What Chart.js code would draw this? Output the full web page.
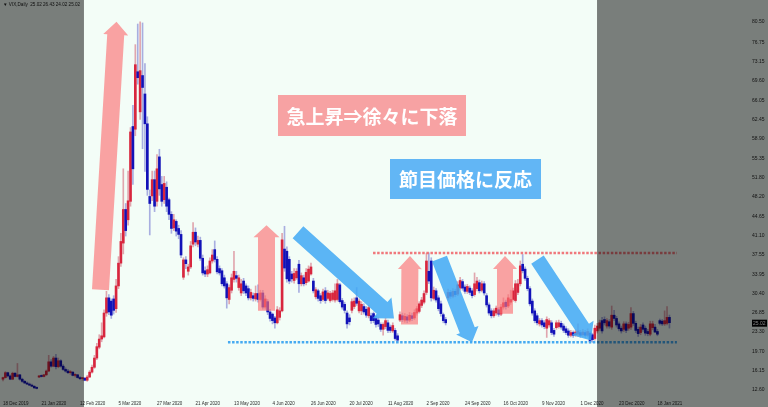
<!DOCTYPE html>
<html><head><meta charset="utf-8">
<script src="https://cdn.jsdelivr.net/npm/chart.js@4.4.1/dist/chart.umd.min.js"></script>
<style>html,body{margin:0;padding:0;background:#f3fdf7;overflow:hidden}#wrap{position:relative;width:768px;height:407px}</style>
</head><body><div id="wrap"><canvas id="c" width="768" height="407"></canvas></div>
<script>
// ---- data ----
const dateLabels = ["18 Dec 2019","21 Jan 2020","12 Feb 2020","5 Mar 2020","27 Mar 2020","21 Apr 2020","13 May 2020","4 Jun 2020","26 Jun 2020","20 Jul 2020","11 Aug 2020","2 Sep 2020","24 Sep 2020","16 Oct 2020","9 Nov 2020","1 Dec 2020","23 Dec 2020","18 Jan 2021"];
const dateTickIndex = [0,16,32,48,64,80,96,112,128,144,160,176,192,208,224,240,256,272];
const priceTicks = [80.50,76.75,73.15,69.60,66.05,62.45,58.90,55.35,51.80,48.20,44.65,41.10,37.55,33.95,30.40,26.85,23.30,19.70,16.15,12.60];
const openP = [14.6,14.9,15.8,15.2,14.6,15.7,15.1,15.4,14.6,14.2,13.9,13.7,13.5,13.3,13.0,15.0,15.2,15.1,15.4,16.1,17.8,17.0,18.5,16.9,18.0,17.0,16.4,16.1,15.8,15.9,15.3,15.4,14.9,14.7,14.8,14.4,15.0,15.9,16.8,18.5,20.5,22.0,22.4,26.8,29.6,29.0,29.4,27.6,31.8,36.0,39.7,45.9,44.0,47.4,61.2,60.7,71.3,63.9,70.6,67.2,61.7,48.3,48.4,51.4,47.4,55.6,50.5,47.7,50.0,47.7,45.0,42.5,43.7,42.4,41.3,33.4,36.6,34.5,35.3,39.5,41.7,39.5,40.2,36.9,34.6,34.0,34.2,36.4,38.5,36.7,35.0,34.6,33.3,32.2,29.3,31.0,33.0,33.7,31.5,30.5,32.7,31.8,31.3,29.6,30.0,29.4,30.4,29.3,30.5,27.9,28.9,27.0,26.6,25.9,25.0,26.0,27.2,38.6,38.2,36.7,34.0,32.8,33.3,35.8,32.2,33.3,32.4,32.7,34.0,32.7,29.8,30.9,30.0,29.3,30.9,29.5,29.1,29.3,29.2,29.3,32.0,29.1,28.4,26.8,25.9,27.3,28.0,29.6,27.2,27.2,28.0,27.5,26.3,26.3,26.7,25.8,25.5,24.7,23.8,24.3,25.0,24.2,23.5,23.6,22.6,25.5,26.3,25.5,26.1,25.5,26.3,25.9,26.8,27.1,28.2,28.8,30.6,34.5,36.4,29.5,30.9,29.6,28.5,26.5,25.6,29.6,30.6,29.9,30.8,30.3,31.4,32.6,31.6,30.8,31.4,30.9,30.2,31.3,32.4,31.0,32.2,30.0,28.3,27.2,26.3,26.8,27.4,26.6,27.9,28.8,28.1,28.8,29.3,29.1,30.6,32.2,35.8,34.9,33.2,31.3,29.0,27.2,26.3,24.8,25.4,25.0,24.0,24.6,25.0,23.6,24.1,24.3,24.9,24.4,23.9,23.5,22.7,23.2,22.8,22.9,23.2,22.8,23.2,22.7,23.1,22.8,22.1,23.5,24.0,25.4,25.6,24.4,25.2,24.2,26.4,25.8,24.8,24.0,23.8,24.8,24.0,24.2,26.7,24.9,23.8,23.2,24.6,24.0,23.4,22.9,24.1,24.2,23.4,25.4,25.3,24.8,24.9,26.0];
const highP = [15.0,16.0,15.9,15.4,15.9,15.8,17.5,15.5,14.8,14.4,14.1,13.9,13.7,13.4,13.2,15.3,15.4,15.5,16.3,19.0,18.2,18.8,19.2,18.5,18.2,17.3,16.7,16.4,16.2,16.0,15.6,15.5,15.1,14.9,14.9,15.3,16.2,17.2,19.0,21.2,22.8,25.0,27.4,30.8,30.2,29.4,30.0,33.0,37.2,41.5,53.4,47.0,53.0,61.0,65.1,76.3,80.1,80.5,80.3,72.8,63.0,49.5,53.0,53.0,56.0,57.0,52.0,52.0,51.0,48.0,45.5,45.0,44.0,43.0,42.0,37.0,37.2,35.8,40.0,43.5,42.5,41.0,40.8,37.5,35.3,35.5,37.0,38.5,40.1,37.2,35.5,35.0,33.8,32.6,32.0,34.0,38.2,34.5,33.8,33.0,33.2,32.2,31.8,31.2,30.5,31.8,32.0,31.0,31.0,30.0,29.3,27.5,26.8,26.2,28.0,27.8,41.5,42.8,39.0,37.2,34.5,35.0,35.0,36.5,34.2,33.8,35.0,35.5,36.0,33.2,31.5,31.2,30.4,31.2,31.5,31.0,30.8,31.0,32.2,33.0,32.3,29.5,28.8,27.2,26.5,29.4,29.6,31.5,29.4,28.9,28.5,28.0,28.2,26.8,27.0,26.2,25.9,25.0,25.0,25.8,25.5,24.6,25.0,24.0,23.0,27.0,26.8,26.7,26.5,26.9,26.8,27.4,28.0,28.9,29.7,30.9,37.8,37.9,37.0,31.6,31.3,30.0,29.0,26.8,26.0,31.2,31.0,31.3,31.2,32.6,33.4,33.0,32.0,32.1,31.8,31.3,34.2,33.4,32.9,32.7,32.6,30.4,28.7,27.6,27.6,28.1,27.8,28.4,29.6,29.2,30.2,31.0,31.4,32.8,33.0,36.4,37.6,35.3,33.6,31.7,29.4,27.6,26.7,25.8,25.8,25.4,26.1,25.8,25.4,24.0,25.4,25.5,25.3,24.8,24.3,23.9,23.6,23.5,23.7,24.8,23.6,23.8,23.6,23.9,23.4,23.1,24.6,24.9,25.5,26.0,26.1,25.8,25.6,28.1,27.3,26.2,25.2,24.4,25.2,25.2,25.1,27.8,27.1,25.3,24.2,24.7,25.0,24.4,23.8,25.3,25.3,24.7,23.8,25.7,25.6,27.2,28.0,26.43];
const lowP = [14.3,14.8,15.0,14.5,14.5,15.0,15.0,14.4,14.0,13.8,13.6,13.4,13.2,12.9,12.8,14.9,15.0,15.0,15.3,16.0,16.8,16.9,16.5,16.7,16.8,16.2,15.9,15.6,15.5,15.2,15.0,14.8,14.5,14.4,14.3,14.2,14.9,15.7,16.6,18.2,20.2,21.5,22.2,26.2,26.5,25.8,26.6,26.9,31.3,35.4,37.7,41.0,43.0,46.5,50.5,59.5,69.0,62.5,57.1,52.9,48.5,41.2,47.5,45.5,46.5,48.5,46.5,47.0,45.5,44.0,41.5,42.0,41.0,40.5,37.0,33.0,35.0,33.8,35.0,39.0,39.2,39.0,36.5,33.8,33.5,33.5,34.0,36.0,36.2,34.0,33.8,31.8,31.4,27.7,28.5,30.5,32.5,32.5,31.0,30.0,30.4,30.0,29.2,29.2,29.0,29.0,28.8,29.0,27.5,27.5,26.5,25.3,24.8,24.0,24.8,25.5,27.0,34.5,32.5,32.2,32.5,32.3,33.0,30.6,31.8,31.8,32.0,32.5,33.8,30.5,29.4,29.0,28.6,29.0,28.6,29.2,28.8,29.0,28.8,29.0,28.6,27.5,26.8,24.0,24.6,26.8,27.6,28.2,26.8,26.5,26.6,26.0,25.9,24.9,25.0,24.2,24.3,23.4,22.7,23.9,23.2,23.2,23.2,21.8,21.4,25.2,25.2,25.1,25.0,25.2,25.4,25.6,26.4,26.8,27.8,28.5,30.2,32.2,29.0,29.2,28.8,27.2,26.2,25.0,24.6,29.2,29.5,29.6,29.8,30.0,31.0,31.0,30.4,30.4,30.2,29.6,29.9,30.9,30.5,30.7,30.1,27.9,26.4,25.9,26.0,26.4,26.2,26.3,27.5,27.5,27.8,28.4,29.0,28.8,30.2,31.8,34.2,32.8,30.9,28.1,26.4,25.0,24.6,24.4,24.2,23.9,22.3,24.2,22.8,22.5,23.8,24.0,23.8,23.2,22.8,22.3,22.4,22.3,22.5,22.5,22.3,22.5,22.3,22.4,21.3,21.4,21.8,23.1,23.6,23.1,24.6,24.0,24.0,23.8,25.4,24.2,23.5,23.1,23.4,23.2,23.6,23.8,24.5,23.2,22.5,22.8,23.4,22.7,22.6,22.6,23.7,23.2,22.6,24.6,24.5,24.5,24.6,24.02];
const closeP = [14.9,15.8,15.2,14.6,15.7,15.1,15.4,14.6,14.2,13.9,13.7,13.5,13.3,13.0,12.9,15.2,15.1,15.4,16.1,17.8,17.0,18.5,16.9,18.0,17.0,16.4,16.1,15.8,15.9,15.3,15.4,14.9,14.7,14.8,14.4,15.0,15.9,16.8,18.5,20.6,22.0,22.6,26.8,29.6,27.0,26.4,27.3,31.8,36.0,40.0,45.9,42.0,47.5,60.2,53.4,72.6,70.2,71.5,68.4,61.7,49.6,47.0,51.4,46.5,53.4,49.7,47.4,50.7,46.5,45.0,42.4,44.0,41.9,41.3,37.5,36.6,35.9,35.3,39.2,41.7,39.9,40.2,36.9,34.2,34.0,34.8,36.4,37.5,36.7,34.4,34.2,32.2,31.8,29.6,31.5,33.3,34.5,33.2,33.3,32.2,30.9,30.5,29.6,30.6,29.5,30.4,29.3,30.5,27.9,29.4,27.0,25.8,25.4,25.0,27.4,27.2,40.3,35.1,33.1,32.7,33.1,34.1,34.5,32.2,33.7,32.2,34.3,34.9,35.3,30.9,31.1,29.5,29.1,30.7,29.1,30.5,30.4,30.5,30.9,32.2,28.9,27.9,27.3,24.8,25.2,28.9,29.0,28.6,29.0,28.4,27.0,26.4,27.8,25.4,25.4,24.7,24.8,23.8,24.7,25.4,23.6,23.6,24.5,22.1,21.8,26.5,25.6,26.2,25.5,26.4,25.8,26.9,27.6,28.5,29.2,30.4,36.4,32.7,29.6,31.0,29.2,27.6,26.7,25.4,25.0,30.6,29.9,30.8,30.2,32.0,32.8,31.4,30.8,31.7,30.6,30.0,32.2,32.7,30.9,32.2,30.5,28.3,26.8,26.3,27.2,27.7,26.6,27.9,28.7,28.0,29.6,29.3,30.9,32.2,32.2,35.5,34.6,33.2,31.3,28.5,26.8,25.4,25.0,25.4,24.6,24.3,25.6,25.4,23.2,22.9,25.0,25.0,24.2,23.6,23.2,22.7,23.2,22.7,23.3,23.5,22.7,23.3,22.7,23.4,21.6,21.9,24.0,24.4,25.0,23.5,25.0,25.4,24.4,26.4,25.8,24.6,23.9,23.5,24.8,23.6,24.7,26.7,24.9,23.6,23.0,24.2,23.8,23.1,23.0,24.8,24.8,23.3,22.9,24.9,24.8,25.4,26.0,25.02];

// ---- annotations (data coordinates: bar index, price) ----
const shadeLeftEnd = 33.65, shadeRightStart = 246.9;
const resistanceLevel = 37.86, supportLevel = 21.39;
const resistanceFrom = 153.8, supportFrom = 93.5, levelsTo = 280.1;
const pinkArrows = [
  {t:[40.52,31.08], p:[47.17,80.50], w:8.5, hw:12.5, hl:13},
  {t:[109.52,27.24], p:[109.52,42.98], w:8.5, hw:13, hl:12},
  {t:[168.95,24.68], p:[169.16,37.31], w:8.5, hw:12, hl:13},
  {t:[208.65,26.69], p:[208.65,37.31], w:8, hw:12, hl:13}
];
const blueArrows = [
  {t:[122.61,41.70], p:[162.51,25.78], w:8, hw:14, hl:16},
  {t:[181.42,36.85], p:[194.93,21.39], w:8, hw:12, hl:13},
  {t:[222.15,36.67], p:[244.39,21.75], w:7.5, hw:13, hl:15}
];
const boxes = [
  {c:[153.4,63.2], w:188, h:41, bg:'#f7a2a3', text:'急上昇⇒徐々に下落'},
  {c:[192.2,51.58], w:151, h:40, bg:'#62b6f5', text:'節目価格に反応'}
];
const headerText = '\u25BC VIX,Daily  25.02 26.43 24.02 25.02';

const N = closeP.length;
const idx = Array.from({length:N},(_,i)=>i);
const isUp = i => closeP[i] >= openP[i];
const wickData = idx.map(i=>({x:i, y:[lowP[i], highP[i]]}));
const bodyData = idx.map(i=>({x:i, y:[openP[i], closeP[i]]}));

function drawArrow(ctx, tx, ty, px, py, w, hw, hl, color){
  const dx=px-tx, dy=py-ty, L=Math.hypot(dx,dy); const ux=dx/L, uy=dy/L; const nx=-uy, ny=ux;
  const bx=px-ux*hl, by=py-uy*hl;
  ctx.beginPath();
  ctx.moveTo(tx+nx*w, ty+ny*w);
  ctx.lineTo(bx+nx*w, by+ny*w);
  ctx.lineTo(bx+nx*hw, by+ny*hw);
  ctx.lineTo(px,py);
  ctx.lineTo(bx-nx*hw, by-ny*hw);
  ctx.lineTo(bx-nx*w, by-ny*w);
  ctx.lineTo(tx-nx*w, ty-ny*w);
  ctx.closePath(); ctx.fillStyle=color; ctx.fill();
}

const decor = {
  id:'decor',
  beforeDraw(chart){
    const ctx=chart.ctx; ctx.save(); ctx.fillStyle='#f3fdf7'; ctx.fillRect(0,0,chart.width,chart.height); ctx.restore();
  },
  afterDatasetsDraw(chart){
    const ctx=chart.ctx, xs=chart.scales.x, ys=chart.scales.y;
    const X=v=>xs.getPixelForValue(v), Y=v=>ys.getPixelForValue(v);
    ctx.save();
    ctx.lineWidth=2.5; ctx.setLineDash([2.5,1.6]);
    ctx.strokeStyle='rgba(240,105,110,0.9)';
    ctx.beginPath(); ctx.moveTo(X(resistanceFrom),Y(resistanceLevel)); ctx.lineTo(X(levelsTo),Y(resistanceLevel)); ctx.stroke();
    ctx.strokeStyle='rgba(60,165,240,0.95)';
    ctx.beginPath(); ctx.moveTo(X(supportFrom),Y(supportLevel)); ctx.lineTo(X(levelsTo),Y(supportLevel)); ctx.stroke();
    ctx.setLineDash([]);
    pinkArrows.forEach(a=>drawArrow(ctx,X(a.t[0]),Y(a.t[1]),X(a.p[0]),Y(a.p[1]),a.w,a.hw,a.hl,'rgba(252,114,117,0.65)'));
    blueArrows.forEach(a=>drawArrow(ctx,X(a.t[0]),Y(a.t[1]),X(a.p[0]),Y(a.p[1]),a.w,a.hw,a.hl,'rgba(64,168,244,0.85)'));
    boxes.forEach(b=>{
      const cx=X(b.c[0]), cy=Y(b.c[1]);
      ctx.fillStyle=b.bg; ctx.fillRect(Math.round(cx-b.w/2),Math.round(cy-b.h/2),b.w,b.h);
      ctx.fillStyle='#ffffff'; ctx.font='bold 19px "Noto Sans CJK JP"'; ctx.textAlign='center'; ctx.textBaseline='middle';
      ctx.fillText(b.text, cx, cy+1);
    });
    ctx.restore();
  },
  afterDraw(chart){
    const ctx=chart.ctx, xs=chart.scales.x, ys=chart.scales.y;
    ctx.save();
    const py=ys.getPixelForValue(closeP[N-1]);
    ctx.fillStyle='#000'; ctx.fillRect(752,py-3,15,7);
    ctx.fillStyle='#fff'; ctx.font='5px "Liberation Sans"'; ctx.textAlign='left'; ctx.textBaseline='middle';
    ctx.fillText(closeP[N-1].toFixed(2),753,py+0.5);
    ctx.fillStyle='#222'; ctx.font='4.6px "Liberation Sans"'; ctx.textBaseline='middle';
    ctx.fillText(headerText,3,5);
    ctx.fillStyle='rgba(0,0,0,0.5)';
    const xl=xs.getPixelForValue(shadeLeftEnd), xr=xs.getPixelForValue(shadeRightStart);
    ctx.fillRect(0,0,xl,chart.height);
    ctx.fillRect(xr,0,chart.width-xr,chart.height);
    ctx.restore();
  }
};

new Chart(document.getElementById('c'), {
  type:'bar',
  data:{ datasets:[
    {label:'body', data:bodyData, grouped:false, barThickness:2, minBarLength:1,
     backgroundColor: ctx=>isUp(ctx.dataIndex)?'#d8263e':'#1212b8', borderWidth:0},
    {label:'range', data:wickData, grouped:false, barThickness:1, minBarLength:1,
     backgroundColor: ctx=>isUp(ctx.dataIndex)?'#e0a6ae':'#a8aee0', borderWidth:0}
  ]},
  options:{
    responsive:false, animation:false, devicePixelRatio:1,
    layout:{padding:0},
    plugins:{legend:{display:false}, tooltip:{enabled:false}},
    scales:{
      x:{type:'linear', min:-1.247, max:302.17, offset:false,
         grid:{display:false, drawTicks:true, tickLength:5}, border:{display:false},
         afterBuildTicks:s=>{s.ticks=dateTickIndex.map(v=>({value:v}));},
         afterFit:s=>{s.height=11;},
         ticks:{autoSkip:false, maxRotation:0, align:'start', padding:0, color:'#2a2a2a',
           font:{family:'Liberation Sans', size:4.5},
           callback:(v)=>{const k=dateTickIndex.indexOf(v); return k>=0?dateLabels[k]:'';}}},
      y:{type:'linear', position:'right', min:11.5, max:83.977,
         grid:{display:false, drawTicks:true, tickLength:22}, border:{display:false},
         afterBuildTicks:s=>{s.ticks=priceTicks.map(v=>({value:v}));},
         afterFit:s=>{s.width=38;},
         ticks:{padding:0, color:'#2a2a2a', font:{family:'Liberation Sans', size:5},
           callback:v=>Number(v).toFixed(2)}}
    }
  },
  plugins:[decor]
});
</script></body></html>
